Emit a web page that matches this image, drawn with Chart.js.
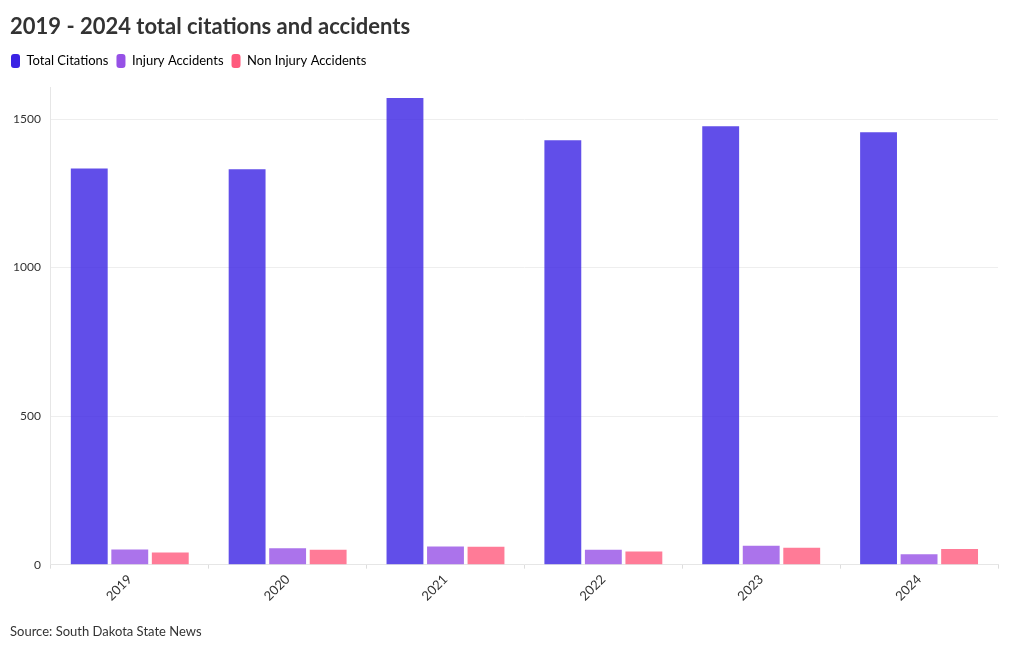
<html>
<head>
<meta charset="utf-8">
<script src="https://cdn.jsdelivr.net/npm/chart.js@4.4.1/dist/chart.umd.min.js"></script>
<title>2019 - 2024 total citations and accidents</title>
<style>
  body { margin: 0; background: #fff; font-family: Lato, 'Open Sans', sans-serif; color: #333; }
  #wrap { position: relative; width: 1020px; height: 650px; }
  #title { position: absolute; left: 10px; top: 12px; font-size: 22px; font-weight: bold; color: #333; }
  #source { position: absolute; left: 10px; top: 623px; font-size: 13px; color: #333; }
</style>
</head>
<body>
<div id="wrap">
  <canvas id="chart"></canvas>
  <div id="title">2019 - 2024 total citations and accidents</div>
  <div id="source">Source: South Dakota State News</div>
</div>
<script>
const years = ['2019', '2020', '2021', '2022', '2023', '2024'];
const totalCitations = [1334, 1331, 1571, 1429, 1476, 1456];
const injuryAccidents = [51, 55, 61, 50, 64, 35];
const nonInjuryAccidents = [41, 50, 60, 44, 57, 53];
const yTicks = [0, 500, 1000, 1500];

Chart.defaults.font.family = "Lato, 'Open Sans', sans-serif";
Chart.defaults.color = '#333';

function ds(label, data, solid, faded) {
  return {
    label: label,
    data: data,
    backgroundColor: faded,
    borderColor: solid,
    borderWidth: 0,
    categoryPercentage: 0.77,
    barPercentage: 0.91
  };
}

// extra space under the legend
const legendGap = {
  id: 'legendGap',
  beforeInit(chart) {
    const fit = chart.legend.fit;
    chart.legend.fit = function () {
      fit.bind(chart.legend)();
      this.height += 9;
    };
  }
};

new Chart(document.getElementById('chart'), {
  type: 'bar',
  data: {
    labels: years,
    datasets: [
      ds('Total Citations', totalCitations, '#3a22e4', 'rgba(58,34,228,0.8)'),
      ds('Injury Accidents', injuryAccidents, '#9651e6', 'rgba(150,80,230,0.8)'),
      ds('Non Injury Accidents', nonInjuryAccidents, '#ff5a7d', 'rgba(255,90,125,0.8)')
    ]
  },
  options: {
    responsive: true,
    maintainAspectRatio: false,
    animation: false,
    layout: { padding: { left: 3, right: 22, top: 46, bottom: 43 } },
    plugins: {
      legend: {
        align: 'start',
        labels: {
          boxWidth: 9,
          boxHeight: 14,
          useBorderRadius: true,
          borderRadius: 3,
          padding: 8,
          color: '#333',
          font: { size: 13 },
          generateLabels: function (chart) {
            return chart.data.datasets.map(function (d, i) {
              return {
                text: d.label,
                fillStyle: d.borderColor,
                strokeStyle: d.borderColor,
                lineWidth: 0,
                borderRadius: 3,
                datasetIndex: i
              };
            });
          }
        }
      },
      tooltip: { enabled: false }
    },
    scales: {
      x: {
        grid: { drawOnChartArea: false, color: '#ddd', tickLength: 4 },
        border: { color: '#e6e6e6' },
        ticks: { minRotation: 45, maxRotation: 45, font: { size: 13 }, color: '#333' }
      },
      y: {
        min: 0,
        max: 1608,
        grid: { color: '#eeeeee', drawTicks: false },
        border: { color: '#e6e6e6' },
        afterBuildTicks: function (axis) {
          axis.ticks = yTicks.map(function (v) { return { value: v }; });
        },
        ticks: {
          padding: 10,
          font: { size: 12 },
          color: '#333',
          callback: function (v) { return String(v); }
        }
      }
    }
  },
  plugins: [legendGap]
});
</script>
</body>
</html>
